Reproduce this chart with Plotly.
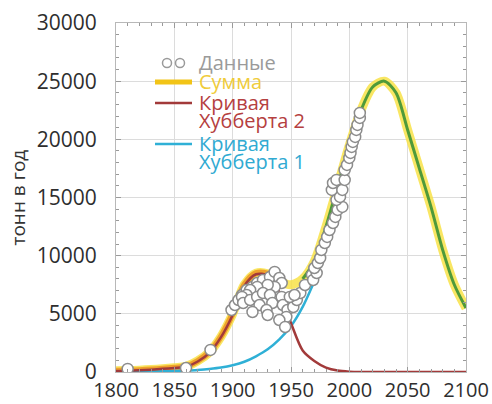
import plotly.graph_objects as go

# ---------------- data ----------------
years_model = [1800, 1810, 1820, 1830, 1840, 1850, 1860, 1870, 1880, 1890,
               1900, 1910, 1920, 1930, 1940, 1950, 1960, 1970, 1980, 1990,
               2000, 2010, 2020, 2030, 2040, 2050, 2060, 2070, 2080, 2090, 2100]
sum_vals = [100, 120, 160, 210, 280, 370, 480, 950, 1700, 3050,
            5000, 7500, 8500, 8450, 7800, 7500, 8000, 9500, 12500, 16000,
            19500, 22500, 24500, 25000, 24000, 20800, 17500, 14200, 10500, 7500, 5500]
hubbert2_vals = [90, 110, 150, 200, 270, 350, 450, 900, 1650, 3000,
                 4900, 7400, 8400, 8300, 6900, 4200, 1850, 950, 380, 120,
                 30, 0, 0, 0, 0, 0, 0, 0, 0, 0, 0]
hubbert1_years = [1800, 1810, 1820, 1830, 1840, 1850, 1860, 1870, 1880, 1890,
                  1900, 1910, 1920, 1930, 1940, 1950, 1960, 1970, 1973]
hubbert1_vals = [10, 15, 25, 35, 55, 80, 120, 175, 260, 380,
                 580, 880, 1350, 1950, 2800, 3950, 5600, 7800, 8500]

data_years = [1810, 1860, 1881, 1899, 1902, 1905, 1908, 1912, 1917, 1921, 1926,
              1932, 1936, 1940, 1942, 1936, 1930, 1921, 1915, 1912, 1908, 1909,
              1915, 1921, 1926, 1932, 1923, 1917, 1934, 1929, 1942, 1943, 1947,
              1946, 1940, 1930, 1945, 1952, 1955, 1958, 1949, 1953, 1962, 1968,
              1969, 1972, 1970, 1973, 1975, 1976, 1979, 1981, 1983, 1986, 1988,
              1990, 1994, 1989, 1992, 1985, 1986, 1989, 1994, 1996, 1996, 1998,
              2000, 2001, 2002, 2003, 2005, 2006, 2007, 2009, 2009]
data_vals = [260, 340, 1900, 5330, 5760, 6190, 6620, 7050, 7310, 7650, 7910,
             8170, 8600, 8080, 7650, 7310, 7480, 7310, 7050, 6620, 6450, 5930,
             6190, 6450, 6790, 6620, 5760, 5160, 5930, 5330, 6450, 5760, 5330,
             4730, 4470, 4900, 3870, 5590, 6190, 6790, 6450, 6620, 7480, 8340,
             7910, 8510, 8940, 9370, 9800, 10490, 11090, 11610, 12210, 12810, 13330,
             13930, 14190, 14790, 15050, 15650, 16250, 16510, 15650, 16510, 17370, 17800,
             18400, 18830, 19350, 19780, 20210, 20810, 21240, 21840, 22270]

x_ticks = [1800, 1850, 1900, 1950, 2000, 2050, 2100]
y_ticks = [0, 5000, 10000, 15000, 20000, 25000, 30000]

legend_labels = ["Данные", "Сумма", "Кривая", "Хубберта 2", "Кривая", "Хубберта 1"]
y_title = "тонн в год"

# ---------------- layout helpers ----------------
W, H = 492, 404
L, R, T, B = 116, 26, 23, 32
PW, PH = W - L - R, H - T - B


def pxx(x):
    return (x - L) / PW


def pxy(y):
    return (H - B - y) / PH


FONT = "Open Sans"
C_SUM_GLOW = "rgba(248,226,72,0.85)"
C_ORANGE = "#efa22c"
C_GREEN = "#4f9a3a"
C_RED = "#a23a3a"
C_BLUE = "#2fb0d6"
C_GREY = "#8c8c8c"

fig = go.Figure()

# sum: yellow glow over the whole range
fig.add_trace(go.Scatter(x=years_model, y=sum_vals, mode="lines",
                         line=dict(color=C_SUM_GLOW, width=9, shape="spline", smoothing=0.8),
                         hoverinfo="skip", showlegend=False))
# sum: orange band (early part)
early = [i for i, t in enumerate(years_model) if t <= 1940]
fig.add_trace(go.Scatter(x=[years_model[i] for i in early], y=[sum_vals[i] for i in early],
                         mode="lines",
                         line=dict(color=C_ORANGE, width=6, shape="spline", smoothing=0.8),
                         hoverinfo="skip", showlegend=False))
# sum: green core (late part)
late = [i for i, t in enumerate(years_model) if t >= 1960]
fig.add_trace(go.Scatter(x=[years_model[i] for i in late], y=[sum_vals[i] for i in late],
                         mode="lines",
                         line=dict(color=C_GREEN, width=3, shape="spline", smoothing=0.8),
                         hoverinfo="skip", showlegend=False))
# Hubbert 1 (blue)
fig.add_trace(go.Scatter(x=hubbert1_years, y=hubbert1_vals, mode="lines",
                         line=dict(color=C_BLUE, width=2.5, shape="spline", smoothing=0.8),
                         hoverinfo="skip", showlegend=False))
# Hubbert 2 (red)
fig.add_trace(go.Scatter(x=years_model, y=hubbert2_vals, mode="lines",
                         line=dict(color=C_RED, width=2.5, shape="spline", smoothing=0.8),
                         hoverinfo="skip", showlegend=False))
# data
fig.add_trace(go.Scatter(x=data_years, y=data_vals, mode="markers",
                         marker=dict(symbol="circle", size=11, color="white",
                                     line=dict(color=C_GREY, width=1.5)),
                         showlegend=False))

axis_common = dict(
    showline=True, linecolor="#b8b8b8", linewidth=1, mirror="ticks",
    showgrid=True, gridcolor="#dcdcdc", gridwidth=1,
    ticks="inside", ticklen=5, tickcolor="#9a9a9a", tickwidth=1,
    zeroline=False, automargin=False,
)

fig.update_xaxes(range=[1800, 2100], tickvals=x_ticks, ticktext=[str(v) for v in x_ticks],
                 minor=dict(dtick=10, ticks="inside", ticklen=3, tickcolor="#9a9a9a", showgrid=False),
                 ticklabelstandoff=0,
                 tickfont=dict(family=FONT, size=20, color="#2e2e2e"), **axis_common)
fig.update_yaxes(range=[0, 30000], tickvals=y_ticks, ticktext=[str(v) for v in y_ticks],
                 minor=dict(dtick=1000, ticks="inside", ticklen=3, tickcolor="#9a9a9a", showgrid=False),
                 ticklabelstandoff=14,
                 tickfont=dict(family=FONT, size=21, color="#2e2e2e"), **axis_common)

# ---------------- custom legend ----------------
shapes = []
annotations = []
# data icon: two small circles
for cx in (167, 180):
    r = 4.5
    shapes.append(dict(type="circle", xref="paper", yref="paper",
                       x0=pxx(cx - r), x1=pxx(cx + r), y0=pxy(63 + r), y1=pxy(63 - r),
                       line=dict(color="#9a9a9a", width=1.5), fillcolor="white"))
shapes.append(dict(type="line", xref="paper", yref="paper",
                   x0=pxx(155), x1=pxx(192), y0=pxy(82), y1=pxy(82),
                   line=dict(color="#f2c417", width=5)))
shapes.append(dict(type="line", xref="paper", yref="paper",
                   x0=pxx(155), x1=pxx(192), y0=pxy(103), y1=pxy(103),
                   line=dict(color=C_RED, width=2.5)))
shapes.append(dict(type="line", xref="paper", yref="paper",
                   x0=pxx(155), x1=pxx(192), y0=pxy(144), y1=pxy(144),
                   line=dict(color=C_BLUE, width=2.5)))

legend_rows = [
    (legend_labels[0], 62, "#9a9a9a"),
    (legend_labels[1], 81, "#f0cc3a"),
    (legend_labels[2], 102, "#b5403f"),
    (legend_labels[3], 120, "#b5403f"),
    (legend_labels[4], 143, "#30aad2"),
    (legend_labels[5], 161, "#30aad2"),
]
for text, yy, col in legend_rows:
    annotations.append(dict(text=text, xref="paper", yref="paper",
                            x=pxx(197), y=pxy(yy), xanchor="left", yanchor="middle",
                            showarrow=False, font=dict(family=FONT, size=20, color=col)))

annotations.append(dict(text=y_title, xref="paper", yref="paper",
                        x=pxx(17), y=0.5, xanchor="center", yanchor="middle",
                        textangle=-90, showarrow=False,
                        font=dict(family=FONT, size=19, color="#333333")))

fig.update_layout(
    width=W, height=H,
    margin=dict(l=L, r=R, t=T, b=B, autoexpand=False),
    paper_bgcolor="white", plot_bgcolor="white",
    showlegend=False,
    shapes=shapes, annotations=annotations,
)

fig.write_html("out.html")
